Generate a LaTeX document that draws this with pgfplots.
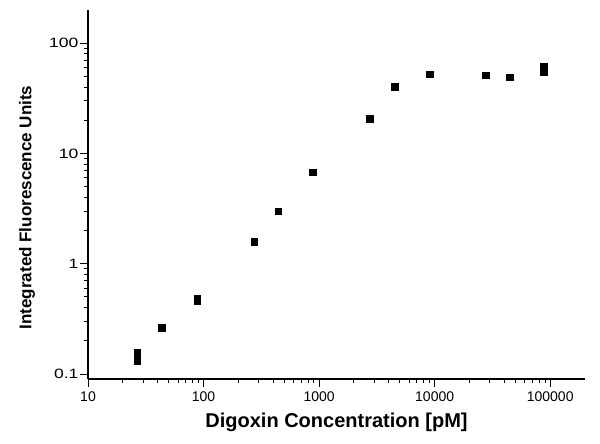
\documentclass[border=0pt]{standalone}
\usepackage{fontspec}
\setmainfont{Liberation Sans}
\usepackage{graphicx}
\usepackage{pgfplots}
\pgfplotsset{compat=1.18}
\newcommand{\ws}[1]{\scalebox{1.3}[1]{#1}}
\begin{document}
\begin{tikzpicture}
\path[use as bounding box] (0,0) rectangle (600bp,444bp);
\begin{axis}[
  at={(88bp,65bp)}, anchor=south west,
  scale only axis, width=497bp, height=369bp,
  xmode=log, ymode=log,
  xmin=10, xmax=200000, ymin=0.09, ymax=200,
  axis x line=bottom, axis y line=left,
  axis line style={-, line width=1.1pt},
  tick align=outside,
  major tick length=8bp, minor tick length=4bp,
  every tick/.style={black, line width=0.8pt},
  xtick={10,100,1000,10000,100000},
  xticklabels={10,100,1000,10000,100000},
  ytick={0.1,1,10,100},
  yticklabels={\ws{0.1},\ws{1},\ws{10},\ws{100}},
  xticklabel style={font=\fontsize{14bp}{16bp}\selectfont, yshift=-1bp},
  yticklabel style={font=\fontsize{13.5bp}{16bp}\selectfont, xshift=2bp},
  xlabel={\bfseries Digoxin Concentration [pM]},
  ylabel={\bfseries Integrated Fluorescence Units},
  xlabel style={font=\fontsize{20bp}{22bp}\selectfont, at={(axis description cs:0.5,0)}, anchor=center, yshift=-43bp},
  ylabel style={font=\fontsize{17bp}{19bp}\selectfont, at={(axis description cs:-0.1227,0.465)}, anchor=center},
  clip=false,
]
\addplot[only marks, mark=square*, mark size=3.4bp, black] coordinates {
(26.7,0.155) (26.7,0.131) (43.4,0.264) (88.2,0.48) (88.2,0.46)
(274.6,1.59) (442.6,2.99) (879,6.77) (2748,20.6) (4530,40.2)
(9080,52.3) (27730,51.2) (44700,49.1) (88500,61.7) (88500,54.7)
};
\end{axis}
\end{tikzpicture}
\end{document}
